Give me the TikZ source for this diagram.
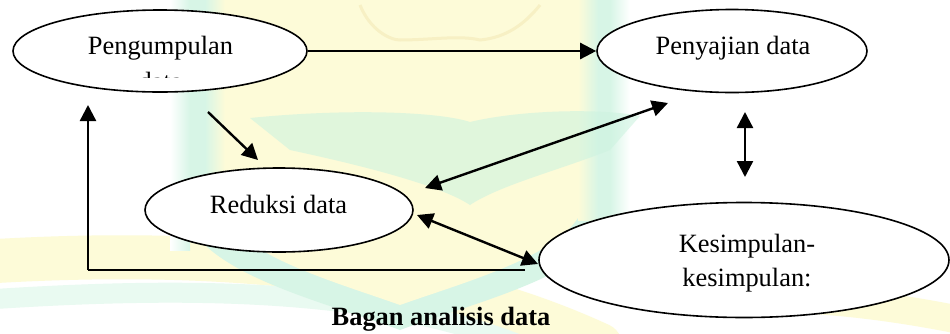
\documentclass[tikz,border=0pt]{standalone}
\usepackage{fontspec}
\setmainfont{Liberation Serif}
\usetikzlibrary{shapes.geometric,arrows.meta}

\definecolor{wmyellow}{HTML}{FDFBD8}
\definecolor{wmmint}{HTML}{CDF3E0}
\definecolor{wmline}{HTML}{F7F0C4}

\tikzset{
  blob/.style={ellipse, draw=black, line width=0.8pt, fill=white, inner sep=0pt},
  lbl/.style={font=\fontsize{13.2}{16}\selectfont, inner sep=0pt, anchor=base},
  captext/.style={font=\fontsize{13.2}{16}\selectfont\bfseries, inner sep=0pt, anchor=base},
  tip/.style={Triangle[length=8pt,width=8pt]},
  link/.style={line width=1.2pt, -{Triangle[length=8pt,width=8pt]}},
  dlink/.style={line width=1.2pt, {Triangle[length=8pt,width=8pt]}-{Triangle[length=8pt,width=8pt]}},
  plain/.style={line width=1.2pt}
}

\begin{document}
\begin{tikzpicture}[x={(0.5pt,0)}, y={(0,-0.5pt)}]
\useasboundingbox (0,0) rectangle (950,333);
\fill[white] (0,0) rectangle (950,333);

% faint emblem in the background
\begin{scope}
  \clip (0,0) rectangle (950,333);
  % bottom ribbon
  \draw[wmyellow, line width=22pt, line cap=round]
    (-20,262) .. controls (200,248) and (420,262) .. (600,345);
  \draw[wmmint!45, line width=10pt]
    (-20,300) .. controls (200,285) and (380,290) .. (520,345);
  \draw[wmyellow, line width=14pt]
    (700,300) .. controls (780,295) and (860,300) .. (960,320);
  % shield
  \fill[wmmint!80]
    (183,0) -- (183,200) .. controls (183,270) and (320,300) .. (400,330)
    .. controls (480,300) and (617,270) .. (617,200) -- (617,0) -- cycle;
  \fill[wmyellow]
    (218,0) -- (218,195) .. controls (218,250) and (330,280) .. (400,305)
    .. controls (470,280) and (585,250) .. (585,195) -- (585,0) -- cycle;
  % soft edges of the shield
  \shade[left color=white, right color=wmmint!80] (170,0) rectangle (190,250);
  \shade[left color=wmmint!80, right color=wmyellow] (205,0) rectangle (225,220);
  \shade[left color=wmyellow, right color=wmmint!80] (578,0) rectangle (598,220);
  \shade[left color=wmmint!80, right color=white] (610,0) rectangle (630,250);
  % open book
  \fill[wmmint, opacity=0.6]
    (250,118) .. controls (350,108) and (440,112) .. (470,122)
    .. controls (520,110) and (600,108) .. (640,116)
    -- (610,150) .. controls (560,170) and (500,185) .. (470,205)
    .. controls (440,185) and (360,165) .. (290,150) -- cycle;
  % crest outline at the top
  \draw[wmline, line width=1.5pt]
    (360,5) .. controls (370,30) and (390,40) .. (400,40)
    .. controls (430,40) and (460,35) .. (480,40)
    .. controls (500,38) and (520,30) .. (540,5);
\end{scope}

% stages of the analysis
\node[blob, minimum width=147pt, minimum height=41pt] (A) at (160,51) {};
\node[blob, minimum width=135pt, minimum height=41.5pt] (B) at (732,51) {};
\node[blob, minimum width=134pt, minimum height=42pt] (C) at (279,210) {};
\node[blob, minimum width=205pt, minimum height=57.5pt] (D) at (744,260) {};

\node[lbl] (At) at (160.5,54) {Pengumpulan};
\begin{scope}
  \clip (100,60) rectangle (220,77.5);
  \node[lbl] (Au) at (160.5,90) {data};
\end{scope}
\node[lbl] (Bt) at (733,54) {Penyajian data};
\node[lbl] (Ct) at (278.5,213) {Reduksi data};
\node[lbl] (Dt) at (747,252) {Kesimpulan-};
\node[lbl] (Du) at (747,286) {kesimpulan:};

\node[captext] (T) at (441,325) {Bagan analisis data};

% free ends of the connectors
\coordinate (p1) at (208,112);
\coordinate (p2) at (258,160);
\coordinate (q1) at (668,103);
\coordinate (q2) at (425,188);
\coordinate (v1) at (745,112);
\coordinate (v2) at (745,177);
\coordinate (r1) at (417,215);
\coordinate (r2) at (538,264);
\coordinate (f1) at (525,270);
\coordinate (f2) at (88,270);
\coordinate (f3) at (88,105);

\draw[link] (A.east) -- (B.west);
\draw[link] (p1) -- (p2);
\draw[dlink] (q1) -- (q2);
\draw[dlink] (v1) -- (v2);
\draw[dlink] (r1) -- (r2);
\draw[plain] (f1) -- (f2);
\draw[link] (f2) -- (f3);
\end{tikzpicture}
\end{document}
